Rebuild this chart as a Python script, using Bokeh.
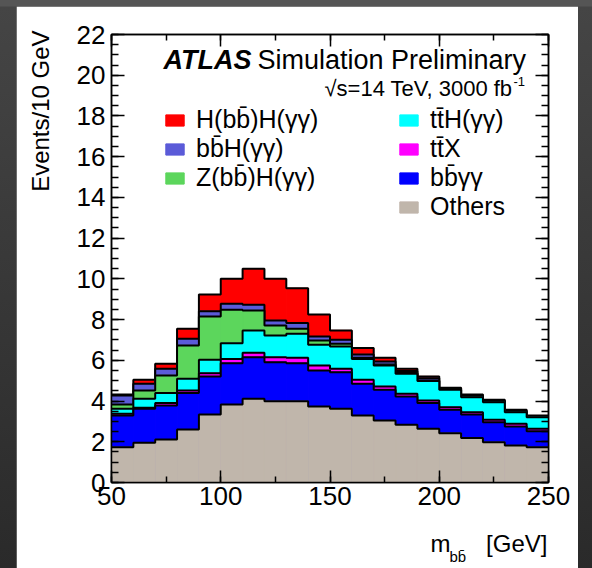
import numpy as np
from bokeh.plotting import figure
from bokeh.models import Range1d, SingleIntervalTicker, LinearAxis, Label, Legend, LegendItem
from bokeh.embed import file_html
from bokeh.resources import INLINE

# ---- data (events / 10 GeV) ----
bin_edges = [50, 60, 70, 80, 90, 100, 110, 120, 130, 140, 150,
             160, 170, 180, 190, 200, 210, 220, 230, 240, 250]
others = [1.73, 1.95, 2.11, 2.60, 3.34, 3.83, 4.11, 3.99, 3.99, 3.73,
          3.62, 3.29, 3.04, 2.83, 2.64, 2.42, 2.19, 1.98, 1.82, 1.73]
bbyy = [1.56, 1.67, 1.67, 1.79, 1.87, 2.03, 2.04, 1.92, 1.87, 1.77,
        1.80, 1.56, 1.51, 1.39, 1.26, 1.15, 1.15, 0.98, 0.93, 0.79]
ttx = [0.08, 0.05, 0.12, 0.13, 0.16, 0.21, 0.22, 0.24, 0.26, 0.25,
       0.16, 0.19, 0.17, 0.14, 0.13, 0.13, 0.11, 0.12, 0.13, 0.12]
tth = [0.25, 0.44, 0.49, 0.57, 0.66, 0.77, 1.10, 1.07, 1.18, 1.01,
       1.10, 1.03, 1.03, 0.98, 0.95, 0.85, 0.74, 0.86, 0.57, 0.57]
zh = [0.21, 0.41, 0.87, 1.64, 2.12, 1.64, 0.98, 0.49, 0.25, 0.21,
      0.13, 0.05, 0.05, 0.04, 0.03, 0.02, 0.02, 0.02, 0.02, 0.02]
bbh = [0.44, 0.33, 0.32, 0.33, 0.26, 0.30, 0.28, 0.25, 0.28, 0.20,
       0.20, 0.17, 0.14, 0.09, 0.11, 0.04, 0.05, 0.05, 0.05, 0.03]
hh = [0.05, 0.19, 0.25, 0.49, 0.82, 1.22, 1.77, 2.04, 1.71, 1.08,
      0.46, 0.32, 0.18, 0.11, 0.09, 0.04, 0.06, 0.05, 0.05, 0.03]

# stack order bottom -> top
series_names = ["Others", "bb\u0304\u03b3\u03b3", "tt\u0304X", "tt\u0304H(\u03b3\u03b3)",
                "Z(bb\u0304)H(\u03b3\u03b3)", "bb\u0304H(\u03b3\u03b3)", "H(bb\u0304)H(\u03b3\u03b3)"]
series_values = [others, bbyy, ttx, tth, zh, bbh, hh]
series_colors = ["#c0b6ab", "#0000ff", "#ff00ff", "#00ffff", "#5cd65c", "#5b5bd8", "#ff0000"]

legend_col1 = ["H(bb\u0304)H(\u03b3\u03b3)", "bb\u0304H(\u03b3\u03b3)", "Z(bb\u0304)H(\u03b3\u03b3)"]
legend_col2 = ["tt\u0304H(\u03b3\u03b3)", "tt\u0304X", "bb\u0304\u03b3\u03b3", "Others"]

FONT = "Liberation Sans"

p = figure(frame_width=437, frame_height=448, output_backend="svg", toolbar_location=None,
           x_range=Range1d(50, 250), y_range=Range1d(0, 22),
           min_border_left=95, min_border_right=30, min_border_top=28, min_border_bottom=86)
p.background_fill_color = "white"
p.border_fill_color = "white"
p.outline_line_color = "black"
p.outline_line_width = 1.5
p.xgrid.visible = False
p.ygrid.visible = False

left_edges = np.array(bin_edges[:-1], dtype=float)
right_edges = np.array(bin_edges[1:], dtype=float)
cums = np.cumsum(np.array(series_values, dtype=float), axis=0)

renderers = {}
for k in range(len(series_values) - 1, -1, -1):
    top = cums[k]
    r = p.quad(left=left_edges, right=right_edges, bottom=np.zeros_like(top), top=top,
               fill_color=series_colors[k], line_color=series_colors[k], line_width=1)
    renderers[series_names[k]] = r
    p.step(x=np.array(bin_edges, dtype=float), y=np.append(top, top[-1]), mode="after",
           line_color="black", line_width=2)

def style_axis(ax, labels=True, major=12, minor=6):
    ax.axis_line_color = "black"
    ax.axis_line_width = 1.5
    ax.major_tick_line_color = "black"
    ax.minor_tick_line_color = "black"
    ax.major_tick_line_width = 1.5
    ax.minor_tick_line_width = 1.5
    ax.major_tick_in = major
    ax.major_tick_out = 0
    ax.minor_tick_in = minor
    ax.minor_tick_out = 0
    if labels:
        ax.major_label_text_font = FONT
        ax.major_label_text_font_size = "26px"
        ax.major_label_text_color = "black"
    else:
        ax.major_label_text_font_size = "0px"
        ax.major_label_standoff = 0

for ax in p.xaxis:
    ax.ticker = SingleIntervalTicker(interval=50, num_minor_ticks=2)
    style_axis(ax, True, 12, 6)
    ax.major_label_standoff = 4
for ax in p.yaxis:
    ax.ticker = SingleIntervalTicker(interval=2, num_minor_ticks=4)
    style_axis(ax, True, 13, 7)
    ax.major_label_standoff = 6

top_axis = LinearAxis(ticker=SingleIntervalTicker(interval=50, num_minor_ticks=2))
style_axis(top_axis, False, 12, 6)
p.add_layout(top_axis, "above")
right_axis = LinearAxis(ticker=SingleIntervalTicker(interval=2, num_minor_ticks=4))
style_axis(right_axis, False, 13, 7)
p.add_layout(right_axis, "right")

# axis titles: labels in the side panels, anchored with the plot's own scales
p.add_layout(Label(x=17.5, y=22.2, text="Events/10 GeV", angle=np.pi / 2,
                   text_align="right", text_baseline="middle",
                   text_font=FONT, text_font_size="24px", text_color="black"), "left")
p.add_layout(Label(x=196.0, y=-3.0, text="m", text_align="left", text_baseline="middle",
                   text_font=FONT, text_font_size="24px", text_color="black"), "below")
p.add_layout(Label(x=204.7, y=-3.63, text="bb\u0304", text_align="left", text_baseline="middle",
                   text_font=FONT, text_font_size="15px", text_color="black"), "below")
p.add_layout(Label(x=249.5, y=-3.0, text="[GeV]", text_align="right", text_baseline="middle",
                   text_font=FONT, text_font_size="24px", text_color="black"), "below")

# ATLAS label (screen units relative to the frame)
p.add_layout(Label(x=52, y=423, x_units="screen", y_units="screen", text="ATLAS",
                   text_font=FONT, text_font_size="27px", text_font_style="bold italic",
                   text_baseline="middle", text_color="black"))
p.add_layout(Label(x=146, y=423, x_units="screen", y_units="screen", text="Simulation Preliminary",
                   text_font=FONT, text_font_size="27px", text_baseline="middle",
                   text_color="black"))
p.add_layout(Label(x=401, y=394, x_units="screen", y_units="screen", text="\u221as=14 TeV, 3000 fb",
                   text_font=FONT, text_font_size="22px", text_align="right",
                   text_baseline="middle", text_color="black"))
p.add_layout(Label(x=402, y=401, x_units="screen", y_units="screen", text="-1",
                   text_font=FONT, text_font_size="13px", text_align="left",
                   text_baseline="middle", text_color="black"))

def make_legend(names, loc):
    lg = Legend(items=[LegendItem(label=n, renderers=[renderers[n]]) for n in names],
                location=loc, orientation="vertical")
    lg.border_line_alpha = 0
    lg.background_fill_alpha = 0
    lg.padding = 0
    lg.margin = 0
    lg.spacing = 0
    lg.label_height = 26
    lg.glyph_height = 14
    lg.glyph_width = 23
    lg.label_standoff = 10
    lg.label_text_font = FONT
    lg.label_text_font_size = "25px"
    lg.label_text_color = "black"
    return lg

p.add_layout(make_legend(legend_col1, (52, 290)))
p.add_layout(make_legend(legend_col2, (286, 261)))

html = file_html(p, INLINE)
css = ("<style>html,body{margin:0;padding:0;}"
       "body{padding:6px 0 0 16px;box-sizing:border-box;width:592px;height:568px;overflow:hidden;"
       "background:linear-gradient(to bottom,#555555 0px,#555555 6px,#454545 7px,#2a2a2a 568px);}</style>")
html = html.replace("</head>", css + "</head>")
open("out.html", "w").write(html)
